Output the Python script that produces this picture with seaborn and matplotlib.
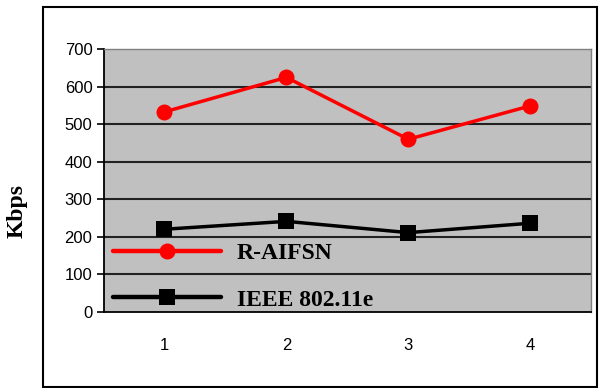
import matplotlib
matplotlib.use("Agg")
import matplotlib.pyplot as plt
import seaborn as sns
import pandas as pd
from matplotlib.patches import Rectangle

categories = [1, 2, 3, 4]
series_names = ["R-AIFSN", "IEEE 802.11e"]
r_aifsn = [533, 625, 460, 549]
ieee_80211e = [220, 241, 211, 236]
y_ticks = [0, 100, 200, 300, 400, 500, 600, 700]

df = pd.DataFrame({
    "x": categories * 2,
    "Kbps": r_aifsn + ieee_80211e,
    "series": [series_names[0]] * 4 + [series_names[1]] * 4,
})

sns.set_theme(style="white")
plt.rcParams["font.family"] = ["Liberation Sans", "DejaVu Sans"]
plt.rcParams["text.color"] = "black"
plt.rcParams["xtick.color"] = "black"
plt.rcParams["ytick.color"] = "black"
plt.rcParams["axes.labelcolor"] = "black"

fig = plt.figure(figsize=(6.02, 3.88), dpi=100)
fig.patch.set_facecolor("white")
ax = fig.add_axes([0.172, 0.1966, 0.81, 0.6764])
ax.set_facecolor("#c0c0c0")

sns.lineplot(data=df, x="x", y="Kbps", hue="series", style="series",
             palette={series_names[0]: "#ff0000", series_names[1]: "#000000"},
             markers={series_names[0]: "o", series_names[1]: "s"},
             dashes=False, linewidth=2.5, markersize=11.5,
             markeredgewidth=0, ax=ax, legend=True)

ax.set_xlim(0.5, 4.5)
ax.set_ylim(0, 700)
ax.set_yticks(y_ticks)
ax.set_yticklabels([str(v) for v in y_ticks], fontsize=12)
ax.set_xticks(categories)
ax.set_xticklabels([str(c) for c in categories], fontsize=12)
ax.set_xticks([0.5, 1.5, 2.5, 3.5, 4.5], minor=True)
ax.tick_params(axis="x", which="major", length=0, pad=19)
ax.tick_params(axis="x", which="minor", length=5, width=1.2, color="black", direction="out")
ax.tick_params(axis="y", which="major", length=5, width=1.2, color="black", direction="out", pad=3, left=True)

for v in y_ticks[1:-1]:
    ax.axhline(v, color="#222222", linewidth=1.5, zorder=1)

for s in ["left", "bottom"]:
    ax.spines[s].set_color("black")
    ax.spines[s].set_linewidth(1.3)
for s in ["top", "right"]:
    ax.spines[s].set_color("#808080")
    ax.spines[s].set_linewidth(1.0)

ax.set_xlabel("")
ax.set_ylabel("Kbps", fontsize=17, fontweight="bold", family=["Liberation Serif"])
ax.yaxis.set_label_coords(-0.155, 0.385)

handles, labels = ax.get_legend_handles_labels()
leg = ax.legend(handles, labels, loc="center left", bbox_to_anchor=(0.019, 0.133),
                frameon=False, handlelength=4.6, handletextpad=0.65, labelspacing=1.05,
                borderaxespad=0, borderpad=0,
                prop={"family": "Liberation Serif", "weight": "bold", "size": 17})
for line in leg.get_lines():
    line.set_linewidth(3.2)

fig.patches.append(Rectangle((0.0714, 0.003), 0.921, 0.979, transform=fig.transFigure,
                             fill=False, edgecolor="black", linewidth=1.5))

fig.savefig("out.png", dpi=100)
